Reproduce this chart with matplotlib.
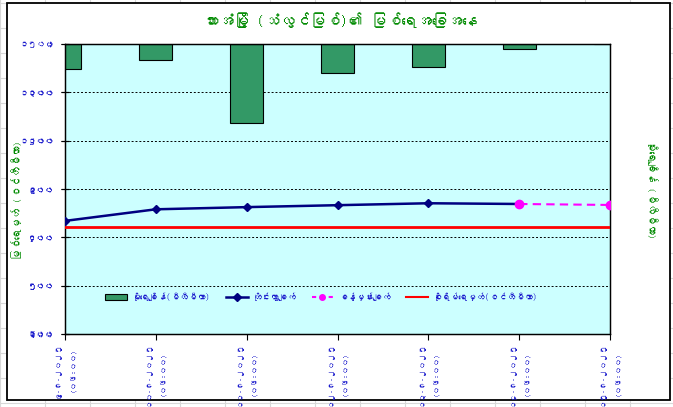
import matplotlib
matplotlib.use("Agg")
import matplotlib.pyplot as plt
from matplotlib import font_manager, ft2font
from matplotlib.patches import Rectangle, Patch
from matplotlib.lines import Line2D

# ---------------- data ----------------
categories = ['၉-၈-၂၀၂၅\n(၀၆:၀၀)', '၁၀-၈-၂၀၂၅\n(၀၆:၀၀)', '၁၁-၈-၂၀၂၅\n(၀၆:၀၀)',
              '၁၂-၈-၂၀၂၅\n(၀၆:၀၀)', '၁၃-၈-၂၀၂၅\n(၀၆:၀၀)', '၁၄-၈-၂၀၂၅\n(၀၆:၀၀)',
              '၁၅-၈-၂၀၂၅\n(၀၆:၀၀)']
rainfall = [52, 34, 164, 61, 48, 11, 0]
observed_idx = [0, 1, 2, 3, 4, 5]
observed = [768, 816, 825, 833, 841, 838]
forecast_idx = [5, 6]
forecast = [838, 834]
danger_level = [744] * 7

left_ticks = [300, 500, 700, 900, 1100, 1300, 1500]
left_labels = ['၃၀၀', '၅၀၀', '၇၀၀', '၉၀၀', '၁၁၀၀', '၁၃၀၀', '၁၅၀၀']
right_ticks = [0, 100, 200, 300, 400, 500, 600]
right_labels = ['၀', '၁၀၀', '၂၀၀', '၃၀၀', '၄၀၀', '၅၀၀', '၆၀၀']

title = 'ဘားအံမြို့ (သံလွင်မြစ်)၏ မြစ်ရေအခြေအနေ'
left_title = 'မြစ်ရေမှတ် (စင်တီမီတာ)'
right_title = 'မိုးရေချိန် (မီလီမီတာ)'
legend_labels = ['မိုးရေချိန်(မီလီမီတာ)', 'တိုင်းတွာချက်', 'ခန့်မှန်းချက်', 'စိုးရိမ်ရေမှတ်(စင်တီမီတာ)']

# ---------------- font ----------------
def find_myanmar_font():
    seen = set()
    for f in font_manager.fontManager.ttflist:
        if f.fname in seen:
            continue
        seen.add(f.fname)
        try:
            cm = ft2font.FT2Font(f.fname).get_charmap()
            if 0x1000 in cm and 0x1019 in cm and 0x103A in cm:
                return f.name
        except Exception:
            pass
    return None

mm = find_myanmar_font()
fams = ([mm] if mm else []) + ['DejaVu Sans']
plt.rcParams['font.family'] = fams

BLUE = '#1a1acc'
GREEN = '#008a00'

W, H = 673, 407
fig = plt.figure(figsize=(W / 100, H / 100), dpi=100)
fig.patch.set_facecolor('white')

# spreadsheet grid behind chart
for gx in range(0, W, 45):
    fig.add_artist(Line2D([gx / W, gx / W], [0, 1], color='#d8d8d8', lw=0.8, zorder=-3))
for gy in range(3, H, 25):
    fig.add_artist(Line2D([0, 1], [1 - gy / H, 1 - gy / H], color='#d8d8d8', lw=0.8, zorder=-3))
fig.add_artist(Rectangle((7 / W, 1 - 400 / H), 663 / W, 397 / H, transform=fig.transFigure,
                         facecolor='white', edgecolor='black', lw=1.3, zorder=-2))

ax = fig.add_axes([65 / W, 1 - 334 / H, 545 / W, 290 / H])
ax.set_zorder(1)
ax.set_facecolor('#ccffff')
x = list(range(len(categories)))
ax.bar(x, rainfall, width=0.36, color='#339966', edgecolor='black', linewidth=0.8, zorder=2)
ax.set_ylim(600, 0)
ax.set_xlim(0, 6)
ax.yaxis.tick_right()
ax.yaxis.set_label_position('right')
ax.set_yticks(right_ticks)
ax.set_yticklabels(right_labels, color=BLUE, fontsize=6.3)
ax.set_axisbelow(True)
ax.grid(axis='y', color='black', linestyle=(0, (2, 2)), lw=0.7)
ax.tick_params(axis='y', direction='inout', length=6, pad=5)
ax.set_xticks(x)
ax.set_xticklabels(categories, rotation=90, color=BLUE, fontsize=5.8, va='top', ha='center',
                   multialignment='center', linespacing=2.3)
ax.tick_params(axis='x', direction='out', length=4, pad=2)
ax.set_ylabel(right_title, rotation=270, color=GREEN, fontsize=7.5, va='center')
ax.yaxis.set_label_coords(1.077, 0.5)

ax2 = ax.twinx()
ax2.set_zorder(2)
ax2.yaxis.tick_left()
ax2.yaxis.set_label_position('left')
ax2.set_ylim(300, 1500)
ax2.set_yticks(left_ticks)
ax2.set_yticklabels(left_labels, color=BLUE, fontsize=6.3)
ax2.tick_params(axis='y', direction='inout', length=6, pad=5)
ax2.set_ylabel(left_title, color=GREEN, fontsize=7.5, va='center')
ax2.yaxis.set_label_coords(-0.088, 0.46)
ax2.plot(x, danger_level, color='#ff0000', lw=2, zorder=3)
ax2.plot(observed_idx, observed, color='#000080', lw=1.8, marker='D', markersize=4, zorder=4)
ax2.plot(forecast_idx, forecast, color='#ff00ff', lw=1.5, linestyle=(0, (4, 2.5)),
         marker='o', markersize=6, zorder=4)
for a in (ax, ax2):
    for s in a.spines.values():
        s.set_color('black')
        s.set_linewidth(0.9)

handles = [Patch(facecolor='#339966', edgecolor='black', lw=0.8),
           Line2D([], [], color='#000080', lw=1.8, marker='D', markersize=4),
           Line2D([], [], color='#ff00ff', lw=1.5, linestyle=(0, (2, 2)), marker='o', markersize=4),
           Line2D([], [], color='#ff0000', lw=1.5)]
leg = ax2.legend(handles, legend_labels, ncol=4, loc='center', bbox_to_anchor=(0.47, 0.128),
                 frameon=False, fontsize=6.3, handlelength=2.5, columnspacing=1.8,
                 handletextpad=0.5)
for t in leg.get_texts():
    t.set_color(BLUE)

fig.text(0.505, 1 - 20 / H, title, ha='center', va='center', color=GREEN, fontsize=11,
         fontweight='bold')

fig.savefig('out.png', dpi=100)
